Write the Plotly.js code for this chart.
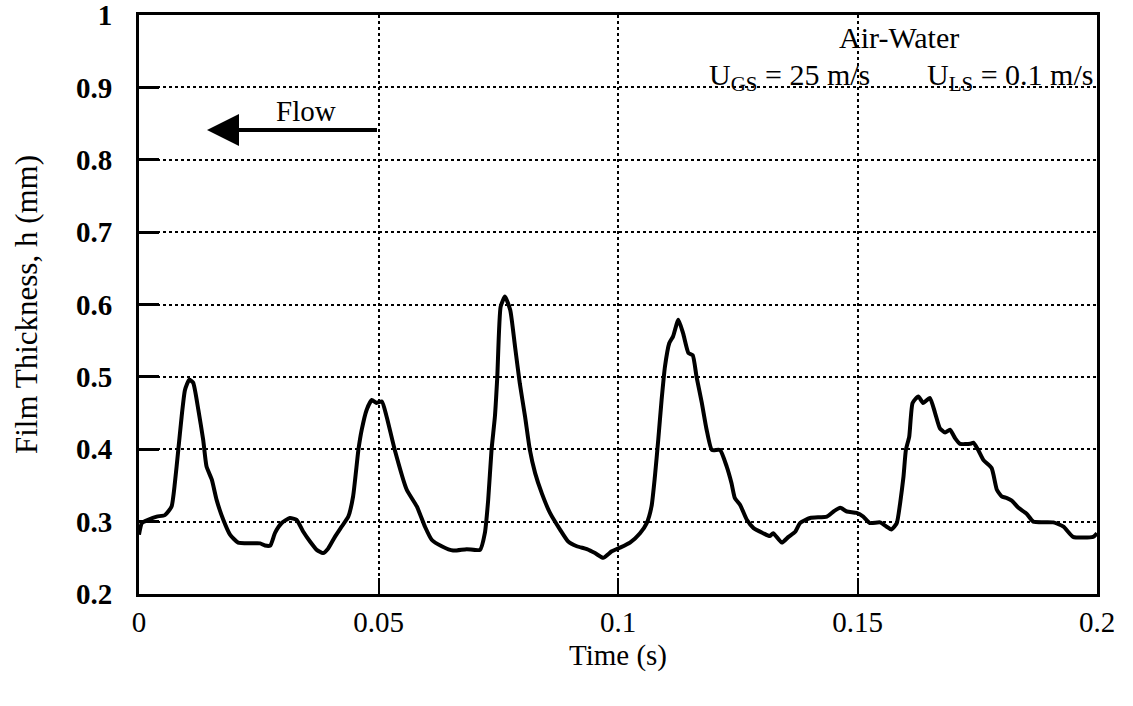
<!DOCTYPE html>
<html>
<head>
<meta charset="utf-8">
<script src="https://cdn.plot.ly/plotly-3.0.1.min.js"></script>
<style>
  html, body { margin: 0; padding: 0; background: #ffffff; }
  #chart { width: 1133px; height: 706px; }
</style>
</head>
<body>
<div id="chart"></div>
<script>
// Time (s)
const time = [
  0, 0.0006, 0.0019, 0.0037, 0.0054, 0.0068, 0.0075, 0.0082, 0.0089, 0.0096,
  0.0105, 0.0113, 0.0124, 0.0134, 0.0141, 0.0152, 0.0162, 0.0176, 0.019, 0.0207,
  0.0232, 0.0253, 0.0263, 0.0274, 0.0284, 0.0298, 0.0315, 0.0329, 0.0343, 0.0357,
  0.0371, 0.0384, 0.0395, 0.0409, 0.0423, 0.0437, 0.0447, 0.0458, 0.0465, 0.0475,
  0.0486, 0.0496, 0.0507, 0.0517, 0.0534, 0.0559, 0.058, 0.0597, 0.0611, 0.0632,
  0.0656, 0.0684, 0.0712, 0.0722, 0.0729, 0.0736, 0.0743, 0.0748, 0.0755, 0.0764,
  0.0775, 0.0785, 0.0795, 0.0806, 0.0816, 0.0827, 0.0841, 0.0858, 0.0879, 0.0896,
  0.0914, 0.0935, 0.0952, 0.0969, 0.0987, 0.1004, 0.1025, 0.1046, 0.106, 0.107,
  0.1077, 0.1084, 0.1091, 0.1098, 0.1107, 0.1115, 0.1126, 0.1136, 0.1147, 0.1156,
  0.1164, 0.1175, 0.1185, 0.1196, 0.1213, 0.1227, 0.1237, 0.1244, 0.1255, 0.1269,
  0.1283, 0.1303, 0.1317, 0.1324, 0.1342, 0.1356, 0.137, 0.138, 0.1401, 0.1436,
  0.145, 0.1464, 0.1478, 0.1498, 0.1512, 0.1526, 0.1547, 0.1561, 0.1571, 0.1582,
  0.1589, 0.1596, 0.1601, 0.1608, 0.1615, 0.1627, 0.1637, 0.1651, 0.1662, 0.1672,
  0.1683, 0.1693, 0.1704, 0.1714, 0.1735, 0.1742, 0.1752, 0.1763, 0.178, 0.1791,
  0.1801, 0.1812, 0.1822, 0.1836, 0.1853, 0.1867, 0.1909, 0.193, 0.195, 0.1992,
  0.2
];
// Film thickness h (mm)
const thickness = [
  0.282, 0.298, 0.3025, 0.307, 0.309, 0.321, 0.354, 0.399, 0.445, 0.482,
  0.496, 0.492, 0.454, 0.413, 0.376, 0.358, 0.330, 0.3025, 0.282, 0.271,
  0.270, 0.270, 0.267, 0.267, 0.2845, 0.298, 0.305, 0.3025, 0.286, 0.2725,
  0.261, 0.2565, 0.263, 0.279, 0.293, 0.307, 0.335, 0.399, 0.427, 0.454,
  0.468, 0.464, 0.466, 0.445, 0.399, 0.344, 0.321, 0.293, 0.275, 0.266,
  0.260, 0.262, 0.261, 0.284, 0.330, 0.399, 0.445, 0.500, 0.597, 0.611,
  0.5925, 0.542, 0.491, 0.445, 0.399, 0.367, 0.339, 0.312, 0.289, 0.2725,
  0.266, 0.262, 0.2565, 0.250, 0.259, 0.264, 0.271, 0.284, 0.298, 0.321,
  0.362, 0.413, 0.468, 0.514, 0.5465, 0.556, 0.579, 0.560, 0.533, 0.530,
  0.500, 0.464, 0.427, 0.399, 0.399, 0.376, 0.353, 0.3325, 0.323, 0.3025,
  0.291, 0.284, 0.280, 0.284, 0.271, 0.279, 0.286, 0.298, 0.305, 0.307,
  0.314, 0.319, 0.314, 0.312, 0.307, 0.298, 0.299, 0.293, 0.289, 0.298,
  0.3255, 0.362, 0.399, 0.4175, 0.464, 0.473, 0.464, 0.471, 0.450, 0.429,
  0.423, 0.427, 0.415, 0.4075, 0.4075, 0.409, 0.399, 0.385, 0.374, 0.344,
  0.335, 0.3325, 0.329, 0.319, 0.311, 0.300, 0.299, 0.293, 0.279, 0.279,
  0.284
];

const xTickVals = [0, 0.05, 0.1, 0.15, 0.2];
const xTickText = ['0', '0.05', '0.1', '0.15', '0.2'];
const yTickVals = [0.2, 0.3, 0.4, 0.5, 0.6, 0.7, 0.8, 0.9, 1];
const yTickText = ['0.2', '0.3', '0.4', '0.5', '0.6', '0.7', '0.8', '0.9', '1'];

const xTitle = 'Time (s)';
const yTitle = 'Film Thickness, h (mm)';
const flowLabel = 'Flow';
const flowArrow = { tipX: 0.0142, tailX: 0.05, y: 0.841 };
const fluidLabel = 'Air-Water';
const gasLabel = 'U<sub>GS</sub> = 25 m/s';
const liquidLabel = 'U<sub>LS</sub> = 0.1 m/s';

const FONT = '"Liberation Serif", "Times New Roman", Times, serif';

const trace = {
  x: time,
  y: thickness,
  type: 'scatter',
  mode: 'lines',
  line: { color: '#000000', width: 4, shape: 'spline', smoothing: 0.5 },
  hoverinfo: 'x+y',
  showlegend: false
};

const layout = {
  width: 1133,
  height: 706,
  margin: { l: 139, r: 36, t: 15, b: 112 },
  paper_bgcolor: '#ffffff',
  plot_bgcolor: '#ffffff',
  font: { family: FONT, color: '#000000', size: 29 },
  showlegend: false,
  xaxis: {
    range: [0, 0.2],
    tickvals: xTickVals,
    ticktext: xTickText,
    ticks: 'inside',
    ticklen: 16,
    tickwidth: 2,
    tickcolor: '#000000',
    ticklabelstandoff: 0,
    ticklabeloverflow: 'allow',
    showline: true,
    linecolor: '#000000',
    linewidth: 3,
    mirror: true,
    showgrid: true,
    gridcolor: '#000000',
    gridwidth: 1.5,
    griddash: 'dot',
    zeroline: false,
    tickfont: { family: FONT, size: 29 },
    automargin: false
  },
  yaxis: {
    range: [0.2, 1],
    tickvals: yTickVals,
    ticktext: yTickText,
    ticks: 'inside',
    ticklen: 20,
    tickwidth: 2.5,
    tickcolor: '#000000',
    ticklabelstandoff: 18,
    ticklabeloverflow: 'allow',
    showline: true,
    linecolor: '#000000',
    linewidth: 3,
    mirror: true,
    showgrid: true,
    gridcolor: '#000000',
    gridwidth: 1.5,
    griddash: 'dot',
    zeroline: false,
    tickfont: { family: FONT, size: 29, weight: 'bold' },
    title: { text: yTitle, font: { family: FONT, size: 31 }, standoff: 30 },
    automargin: false
  },
  annotations: [
    {
      xref: 'paper', yref: 'paper', x: 0.5, y: -0.106,
      text: xTitle, showarrow: false,
      font: { family: FONT, size: 29, color: '#000000' },
      xanchor: 'center', yanchor: 'middle'
    },
    {
      xref: 'x', yref: 'y', x: 0.0349, y: 0.867,
      text: flowLabel, showarrow: false,
      font: { family: FONT, size: 29, color: '#000000' },
      xanchor: 'center', yanchor: 'middle'
    },
    {
      xref: 'x', yref: 'y', axref: 'x', ayref: 'y',
      x: flowArrow.tipX, y: flowArrow.y, ax: flowArrow.tailX, ay: flowArrow.y,
      text: '', showarrow: true,
      arrowhead: 2, arrowsize: 1.6, arrowwidth: 4, arrowcolor: '#000000'
    },
    {
      xref: 'paper', yref: 'paper', x: 0.7933, y: 0.962,
      text: fluidLabel, showarrow: false,
      font: { family: FONT, size: 30, color: '#000000' },
      xanchor: 'center', yanchor: 'middle'
    },
    {
      xref: 'paper', yref: 'paper', x: 0.7651, y: 0.893,
      text: gasLabel, showarrow: false,
      font: { family: FONT, size: 30, color: '#000000' },
      xanchor: 'right', yanchor: 'middle'
    },
    {
      xref: 'paper', yref: 'paper', x: 0.9979, y: 0.893,
      text: liquidLabel, showarrow: false,
      font: { family: FONT, size: 30, color: '#000000' },
      xanchor: 'right', yanchor: 'middle'
    }
  ]
};

Plotly.newPlot('chart', [trace], layout, { displayModeBar: false });
</script>
</body>
</html>
